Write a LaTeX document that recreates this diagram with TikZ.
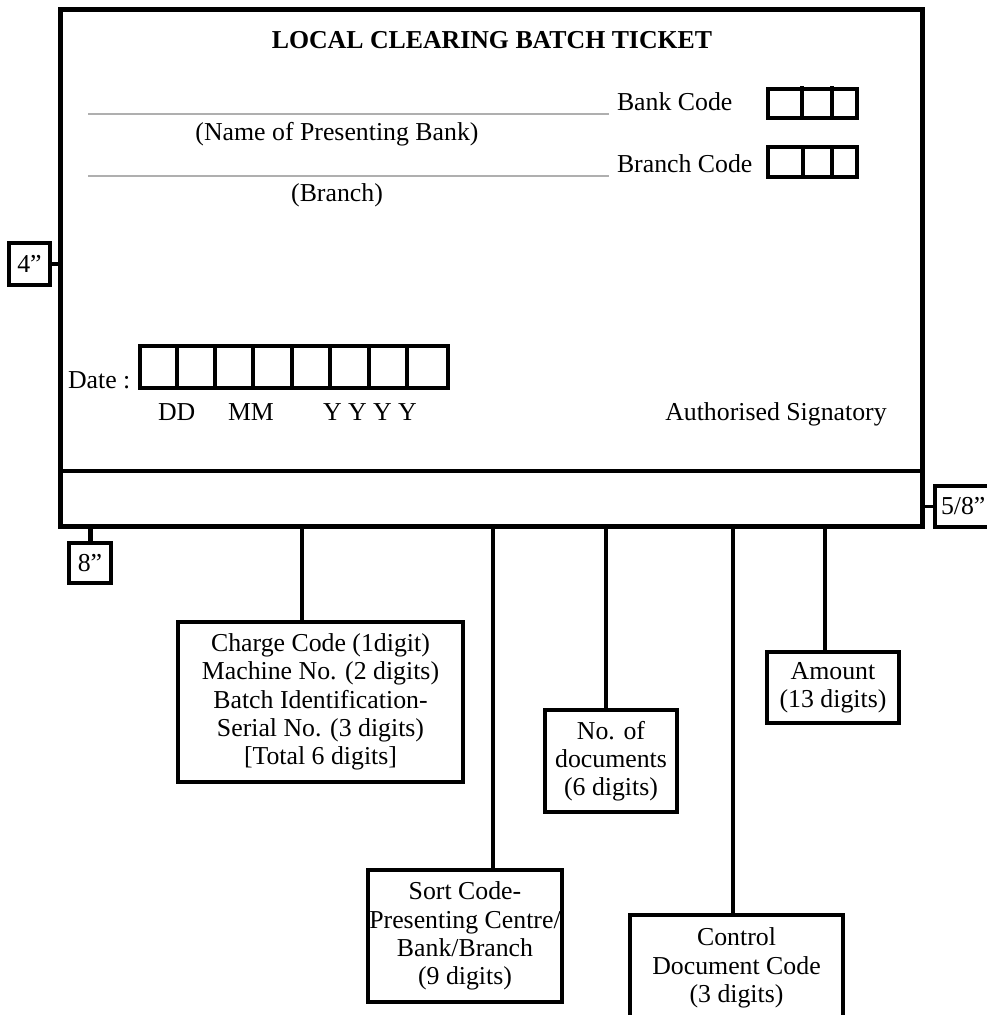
\documentclass[tikz,border=0pt]{standalone}
\usepackage{fontspec}
\setmainfont{Liberation Serif}
\definecolor{lgray}{RGB}{175,175,175}
\begin{document}
\begin{tikzpicture}[x=1pt,y=-1pt,
  txt/.style={font=\fontsize{25.8}{28.3}\selectfont, inner sep=0pt, outer sep=0pt},
  fbox/.style={draw, line width=4.5pt, align=center, inner sep=0pt, outer sep=0pt,
               font=\fontsize{25.8}{28.3}\selectfont},
  dimbox/.style={draw, line width=4pt, inner sep=0pt, outer sep=0pt,
               font=\fontsize{25.8}{28.3}\selectfont},
  conn/.style={line width=3.5pt},
  cell/.style={line width=3.5pt},
  rule/.style={draw=lgray, line width=2.5pt}]
\clip (0,0) rectangle (987,1015);
\useasboundingbox (0,0) rectangle (987,1015);

% main ticket
\node[draw, line width=5pt, minimum width=862pt, minimum height=517pt,
      inner sep=0pt, outer sep=0pt] (ticket) at (491,267.5) {};
\coordinate (divL) at (60,471);
\coordinate (divR) at (922,471);
\draw[line width=3.5pt] (divL) -- (divR);

% title and texts
\node[txt, anchor=base, font=\fontsize{25.8}{28.3}\selectfont\bfseries] (title) at (492,48) {LOCAL CLEARING BATCH TICKET};
\draw[rule] (88,114) -- (609,114);
\draw[rule] (88,176) -- (609,176);
\node[txt, anchor=base] (bankname) at (337,140) {(Name of Presenting Bank)};
\node[txt, anchor=base] (branch) at (337,201) {(Branch)};
\node[txt, anchor=base west] (bankcode) at (617,110) {Bank Code};
\node[txt, anchor=base west] (branchcode) at (617,172) {Branch Code};

% code cells
\draw[cell] (768,89) rectangle (857,118);
\draw[cell] (802,86) -- (802,118);
\draw[cell] (832,86) -- (832,118);
\draw[cell] (768,147) rectangle (857,177);
\draw[cell] (803,147) -- (803,177);
\draw[cell] (832,147) -- (832,177);

% date
\node[txt, anchor=base west] (date) at (68,388) {Date :};
\draw[line width=4pt] (140,346) rectangle (448,388);
\foreach \x in {177,215,253,292,330,369,407}
  \draw[line width=4pt] (\x,346) -- (\x,388);
\node[txt, anchor=base west] (dd) at (158,420) {DD};
\node[txt, anchor=base west] (mm) at (228,420) {MM};
\node[txt, anchor=base west] (yy) at (323,420) {Y Y Y Y};
\node[txt, anchor=base] (sign) at (776,420) {Authorised Signatory};

% dimension labels
\node[dimbox, minimum width=41pt, minimum height=42pt] (four) at (29.5,264) {4”};
\coordinate (fourT) at (60,264);
\draw[conn] (four.east) -- (fourT);
\node[dimbox, minimum width=42pt, minimum height=40pt] (eight) at (90,563) {8”};
\coordinate (eightT) at (90,526);
\draw[line width=5pt] (eightT) -- (eight.north);
\node[dimbox, minimum height=41pt, inner xsep=6pt, anchor=west] (fiveeight) at (935,506.5) {5/8”};
\coordinate (fiveT) at (922,506.5);
\draw[conn] (fiveT) -- (fiveeight.west);

% field boxes
\node[fbox, minimum width=285pt, minimum height=160pt] (chg) at (320.5,702)
  {Charge Code (1digit)\\Machine No. (2 digits)\\Batch Identification-\\Serial No. (3 digits)\\{[Total 6 digits]}};
\node[fbox, minimum width=132pt, minimum height=102pt] (docs) at (611,761)
  {No. of\\documents\\(6 digits)};
\node[fbox, minimum width=132pt, minimum height=71pt] (amt) at (833,687.5)
  {Amount\\(13 digits)};
\node[fbox, minimum width=194pt, minimum height=132pt] (sort) at (465,936)
  {Sort Code-\\Presenting Centre/\\Bank/Branch\\(9 digits)};
\node[fbox, minimum width=213pt, minimum height=106pt] (ctrl) at (736.5,968)
  {Control\\Document Code\\(3 digits)};

% connectors
\coordinate (b1) at (302,526);
\coordinate (b2) at (493,526);
\coordinate (b3) at (606,526);
\coordinate (b4) at (733,526);
\coordinate (b5) at (825,526);
\draw[conn] (b1) -- (b1 |- chg.north);
\draw[conn] (b2) -- (b2 |- sort.north);
\draw[conn] (b3) -- (b3 |- docs.north);
\draw[conn] (b4) -- (b4 |- ctrl.north);
\draw[conn] (b5) -- (b5 |- amt.north);
\end{tikzpicture}
\end{document}
